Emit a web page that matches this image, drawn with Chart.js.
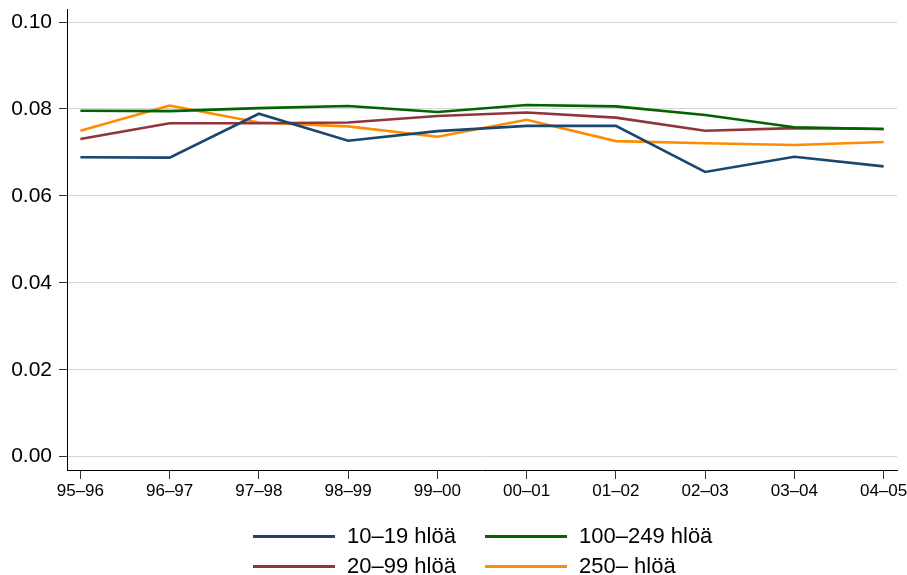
<!DOCTYPE html>
<html>
<head>
<meta charset="utf-8">
<script src="https://cdn.jsdelivr.net/npm/chart.js@4.4.1/dist/chart.umd.min.js"></script>
<style>
  html, body { margin: 0; padding: 0; background: #fff; }
  #wrap { position: relative; width: 907px; height: 575px; }
  #legend { position: absolute; left: 0; top: 0; width: 907px; height: 575px; pointer-events: none;
            font-family: "Liberation Sans", Arial, sans-serif; font-size: 22px; color: #000; }
  .item { position: absolute; display: flex; align-items: center; height: 26px; }
  .item .line { width: 82px; height: 3px; margin-right: 12px; }
</style>
</head>
<body>
<div id="wrap">
  <canvas id="chart" width="907" height="575"></canvas>
  <div id="legend"></div>
</div>
<script>
// periods on the x axis
const periods = ["95–96", "96–97", "97–98", "98–99", "99–00", "00–01", "01–02", "02–03", "03–04", "04–05"];

// series (share by company size)
const size10to19 = [0.0689, 0.0688, 0.0789, 0.0727, 0.0749, 0.0761, 0.0761, 0.0655, 0.0690, 0.0668];
const size100to249 = [0.0796, 0.0795, 0.0802, 0.0807, 0.0793, 0.0809, 0.0806, 0.0786, 0.0758, 0.0754];
const size20to99 = [0.0731, 0.0767, 0.0767, 0.0769, 0.0784, 0.0792, 0.0780, 0.0750, 0.0756, 0.0754];
const size250 = [0.0750, 0.0808, 0.0769, 0.0760, 0.0736, 0.0775, 0.0726, 0.0721, 0.0717, 0.0724];

const yTicks = [0, 0.02, 0.04, 0.06, 0.08, 0.10];

const seriesLabels = ["10–19 hlöä", "100–249 hlöä", "20–99 hlöä", "250– hlöä"];
const seriesData = [size10to19, size100to249, size20to99, size250];
const seriesColors = ["#1a476f", "#006400", "#90353b", "#ff8c00"];

const fontFamily = '"Liberation Sans", Arial, sans-serif';

const datasets = seriesData.map((vals, i) => ({
    label: seriesLabels[i],
    data: vals.map((v, j) => ({ x: j, y: v })),
    borderColor: seriesColors[i],
    backgroundColor: seriesColors[i],
    borderWidth: 2.6,
    pointRadius: 0,
    tension: 0,
    fill: false
}));

new Chart(document.getElementById("chart"), {
    type: "line",
    data: { datasets: datasets },
    options: {
        responsive: false,
        animation: false,
        layout: { padding: { left: 0, right: 10, top: 9, bottom: 65 } },
        plugins: {
            legend: { display: false },
            tooltip: { enabled: false }
        },
        scales: {
            x: {
                type: "linear",
                min: -0.15,
                max: 9.15,
                afterBuildTicks: axis => { axis.ticks = periods.map((p, i) => ({ value: i })); },
                afterFit: axis => {
                    axis.height = 40;
                    axis.paddingLeft = 0; axis.paddingRight = 0;
                },
                ticks: {
                    callback: v => periods[v],
                    font: { family: fontFamily, size: 17 },
                    color: "#000",
                    padding: 2,
                    maxRotation: 0,
                    autoSkip: false
                },
                grid: { display: true, drawOnChartArea: false, drawTicks: true, tickLength: 9, tickColor: "#333" },
                border: { display: true, color: "#000", width: 1 }
            },
            y: {
                min: -0.00306,
                max: 0.103,
                afterBuildTicks: axis => { axis.ticks = yTicks.map(v => ({ value: v })); },
                afterFit: axis => {
                    axis.width = 67;
                    axis.paddingTop = 0; axis.paddingBottom = 0;
                },
                ticks: {
                    callback: v => v.toFixed(2),
                    font: { family: fontFamily, size: 21 },
                    color: "#000",
                    padding: 7
                },
                grid: { color: "#d6d6d6", lineWidth: 1, tickLength: 8, tickColor: "#333" },
                border: { display: true, color: "#000", width: 1 }
            }
        }
    }
});

// legend in two columns, two rows
const legendPos = [
    { left: 253, top: 523 },
    { left: 485, top: 523 },
    { left: 253, top: 553 },
    { left: 485, top: 553 }
];
const legendEl = document.getElementById("legend");
seriesLabels.forEach((lab, i) => {
    const item = document.createElement("div");
    item.className = "item";
    item.style.left = legendPos[i].left + "px";
    item.style.top = legendPos[i].top + "px";
    const line = document.createElement("span");
    line.className = "line";
    line.style.background = seriesColors[i];
    const txt = document.createElement("span");
    txt.textContent = lab;
    item.appendChild(line);
    item.appendChild(txt);
    legendEl.appendChild(item);
});
</script>
</body>
</html>
